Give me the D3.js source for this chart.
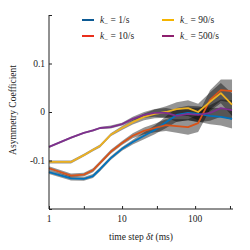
<!DOCTYPE html>
<html><head><meta charset="utf-8">
<script src="https://cdn.jsdelivr.net/npm/d3@7"></script>
<style>body{margin:0;background:#fff}text{font-family:"Liberation Serif","DejaVu Serif",serif;fill:#222}</style>
</head><body><svg id="c" width="250" height="250"></svg>
<script>
const timeSteps = [1,2,3,4,5,7,10,14,20,28,40,56,80,110,160,225,320];
const seriesNames = ["1/s","10/s","90/s","500/s"];
const k1 =   [-0.124,-0.137,-0.138,-0.132,-0.118,-0.095,-0.076,-0.062,-0.049,-0.037,-0.021,-0.006,-0.002,-0.004,-0.008,-0.010,-0.014];
const k10 =  [-0.116,-0.131,-0.129,-0.120,-0.105,-0.082,-0.064,-0.049,-0.039,-0.033,-0.027,-0.029,-0.031,-0.023,0.025,0.045,0.043];
const k90 =  [-0.103,-0.103,-0.089,-0.078,-0.070,-0.047,-0.033,-0.021,-0.010,-0.004,0.000,0.006,0.008,0.000,0.021,0.039,0.015];
const k500 = [-0.072,-0.053,-0.043,-0.038,-0.033,-0.031,-0.025,-0.014,-0.006,-0.002,-0.002,-0.008,-0.004,-0.006,-0.002,0.008,0.004];
const err1 =   [0.004,0.004,0.004,0.004,0.004,0.004,0.004,0.005,0.007,0.009,0.012,0.014,0.015,0.016,0.017,0.018,0.020];
const err10 =  [0.004,0.004,0.004,0.004,0.004,0.004,0.004,0.005,0.007,0.009,0.012,0.014,0.016,0.018,0.020,0.022,0.024];
const err90 =  [0.003,0.003,0.003,0.003,0.003,0.003,0.004,0.005,0.007,0.009,0.012,0.014,0.016,0.017,0.019,0.021,0.023];
const err500 = [0.002,0.002,0.002,0.002,0.002,0.003,0.003,0.004,0.006,0.008,0.010,0.012,0.013,0.015,0.016,0.018,0.020];
const yTicks = [-0.2,-0.1,0,0.1,0.2];
const yLabels = ["","-0.1","0","0.1",""];
const xTicks = [1,3,10,30,100,300];
const xLabels = ["1","","10","","100",""];
const lineColors = ["#0072BD","#D95319","#EDB120","#7E2F8E"];
const legendColors = ["#0d5a94","#ea2f1c","#f5b400","#8e1f6e"];

const series = [k1,k10,k90,k500];
const errs = [err1,err10,err90,err500];
const svg = d3.select("#c");
const x = d3.scaleLog().domain([1,330]).range([49,233]);
const y = d3.scaleLinear().domain([-0.2,0.2]).range([209,15]);

const area = d3.area().x((d,i)=>x(timeSteps[i])).y0((d,i)=>y(d.v-d.e)).y1((d,i)=>y(d.v+d.e));
series.forEach((s,j)=>{
  svg.append("path").datum(s.map((v,i)=>({v:v,e:errs[j][i]})))
    .attr("d",area).attr("fill","#000").attr("fill-opacity",0.42);
});
const line = d3.line().x((d,i)=>x(timeSteps[i])).y(d=>y(d));
series.forEach((s,j)=>{
  svg.append("path").datum(s).attr("d",line).attr("fill","none")
    .attr("stroke",lineColors[j]).attr("stroke-width",1.8).attr("stroke-linejoin","round");
});

const yAx = svg.append("g").attr("transform","translate(49,0)")
  .call(d3.axisRight(y).tickValues(yTicks).tickSize(3).tickFormat(""));
yAx.select(".domain").attr("d","M0,15V209");
yTicks.forEach((t,i)=>{ if(yLabels[i]) svg.append("text").attr("x",45).attr("y",y(t)+3).attr("text-anchor","end").attr("font-size",9.5).text(yLabels[i]); });
const xAx = svg.append("g").attr("transform","translate(0,209)")
  .call(d3.axisTop(x).tickValues(xTicks).tickSize(3).tickFormat(""));
xAx.select(".domain").attr("d","M49,0H233");
xTicks.forEach((t,i)=>{ if(xLabels[i]) svg.append("text").attr("x",x(t)).attr("y",222).attr("text-anchor","middle").attr("font-size",9.5).text(xLabels[i]); });
svg.selectAll(".domain").attr("stroke","#222");
svg.selectAll(".tick line").attr("stroke","#222");

const xl = svg.append("text").attr("x",141).attr("y",240).attr("text-anchor","middle").attr("font-size",9.5);
xl.append("tspan").text("time step ");
xl.append("tspan").attr("font-style","italic").text("δt");
xl.append("tspan").text(" (ms)");
svg.append("text").attr("transform","translate(16,110) rotate(-90)").attr("text-anchor","middle").attr("font-size",9.5).text("Asymmetry Coefficient");

const lx = [82,162], ly=[20,36];
seriesNames.forEach((n,j)=>{
  const cx = lx[Math.floor(j/2)], cy = ly[j%2];
  svg.append("line").attr("x1",cx).attr("x2",cx+12).attr("y1",cy).attr("y2",cy)
    .attr("stroke",legendColors[j]).attr("stroke-width",2);
  const t = svg.append("text").attr("x",cx+18).attr("y",cy+3).attr("font-size",9.5);
  t.append("tspan").attr("font-style","italic").text("k");
  t.append("tspan").attr("font-size",7).attr("dy",2.5).text("\u2212");
  t.append("tspan").attr("dy",-2.5).text(" = "+n);
});
</script></body></html>
